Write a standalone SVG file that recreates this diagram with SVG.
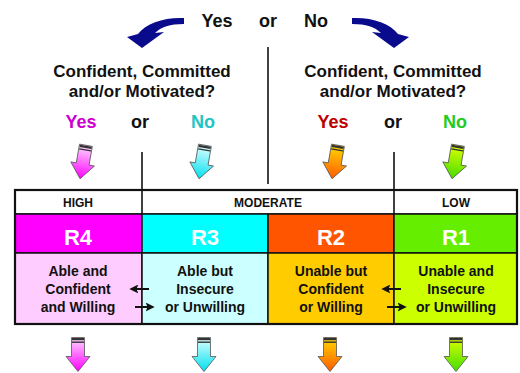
<svg xmlns="http://www.w3.org/2000/svg" width="520" height="373" viewBox="0 0 520 373">
<style>
text{font-family:"Liberation Sans",Arial,sans-serif;font-weight:bold;text-anchor:middle}
.q{font-size:17px;fill:#111}
.yn{font-size:18px}
.hd{font-size:12px;fill:#111}
.rl{font-size:22px;fill:#fff}
.ds{font-size:14px;fill:#111}
.cell{stroke:#111;stroke-width:1.5}
.ln{stroke:#111;stroke-width:1.6;fill:none}
.ga{stroke:#555;stroke-width:0.8}
.band{fill:#333}
.swoosh{fill:#0a0a8c}
.sa{stroke:#111;stroke-width:2;marker-end:url(#ah)}
</style>
<defs>
<linearGradient id="gM" x1="0" y1="0" x2="0" y2="1"><stop offset="0" stop-color="#ffd8ff"/><stop offset="1" stop-color="#ff00ff"/></linearGradient>
<linearGradient id="gC" x1="0" y1="0" x2="0" y2="1"><stop offset="0" stop-color="#e0ffff"/><stop offset="1" stop-color="#00e0f0"/></linearGradient>
<linearGradient id="gO" x1="0" y1="0" x2="0" y2="1"><stop offset="0" stop-color="#ffd800"/><stop offset="1" stop-color="#ff5a00"/></linearGradient>
<linearGradient id="gG" x1="0" y1="0" x2="0" y2="1"><stop offset="0" stop-color="#ddff00"/><stop offset="1" stop-color="#44dd00"/></linearGradient>
<g id="arr">
<path d="M-6.5,-17H6.5V2H12L0,17L-12,2H-6.5Z"/>
</g>
<g id="bands">
<rect class="band" x="-6" y="-16.5" width="12" height="2.2"/>
<rect class="band" x="-6" y="-13" width="12" height="1.4"/>
</g>
<marker id="ah" viewBox="0 0 10 10" refX="7" refY="5" markerWidth="4.5" markerHeight="4.5" orient="auto"><path d="M0,0L10,5L0,10L2,5Z" fill="#111"/></marker>
</defs>

<g id="question-top">
<text class="yn" x="217" y="27" fill="#111">Yes</text>
<text class="yn" x="268" y="27" fill="#111">or</text>
<text class="yn" x="316" y="27" fill="#111">No</text>
</g>

<g id="question-left">
<text class="q" x="142" y="77">Confident, Committed</text>
<text class="q" x="142" y="97">and/or Motivated?</text>
<text class="yn" x="81" y="128" fill="#cc00cc">Yes</text>
<text class="yn" x="140" y="128" fill="#111">or</text>
<text class="yn" x="203" y="128" fill="#22c4c4">No</text>
</g>

<g id="question-right">
<text class="q" x="393" y="77">Confident, Committed</text>
<text class="q" x="393" y="97">and/or Motivated?</text>
<text class="yn" x="333" y="128" fill="#c00000">Yes</text>
<text class="yn" x="393" y="128" fill="#111">or</text>
<text class="yn" x="455" y="128" fill="#22cc22">No</text>
</g>

<g id="header-row">
<rect class="cell" x="15" y="190" width="502" height="24" fill="#fff"/>
<line class="ln" x1="142" y1="190" x2="142" y2="214"/>
<line class="ln" x1="394" y1="190" x2="394" y2="214"/>
<text class="hd" x="78" y="207">HIGH</text>
<text class="hd" x="268" y="207">MODERATE</text>
<text class="hd" x="456" y="207">LOW</text>
</g>

<g id="R4">
<rect class="cell" x="15" y="214" width="127" height="39" fill="#ff00ff"/>
<rect class="cell" x="15" y="253" width="127" height="71" fill="#ffccff"/>
<text class="rl" x="78" y="245">R4</text>
<text class="ds" x="78" y="276">Able and</text>
<text class="ds" x="78" y="294">Confident</text>
<text class="ds" x="78" y="312">and Willing</text>
</g>
<g id="R3">
<rect class="cell" x="142" y="214" width="126" height="39" fill="#00ffff"/>
<rect class="cell" x="142" y="253" width="126" height="71" fill="#ccffff"/>
<text class="rl" x="205" y="245">R3</text>
<text class="ds" x="205" y="276">Able but</text>
<text class="ds" x="205" y="294">Insecure</text>
<text class="ds" x="205" y="312">or Unwilling</text>
</g>
<g id="R2">
<rect class="cell" x="268" y="214" width="126" height="39" fill="#ff5500"/>
<rect class="cell" x="268" y="253" width="126" height="71" fill="#ffcc00"/>
<text class="rl" x="331" y="245">R2</text>
<text class="ds" x="331" y="276">Unable but</text>
<text class="ds" x="331" y="294">Confident</text>
<text class="ds" x="331" y="312">or Willing</text>
</g>
<g id="R1">
<rect class="cell" x="394" y="214" width="123" height="39" fill="#66ee00"/>
<rect class="cell" x="394" y="253" width="123" height="71" fill="#ccff00"/>
<text class="rl" x="456" y="245">R1</text>
<text class="ds" x="456" y="276">Unable and</text>
<text class="ds" x="456" y="294">Insecure</text>
<text class="ds" x="456" y="312">or Unwilling</text>
</g>
<rect x="15" y="190" width="502" height="134" fill="none" stroke="#111" stroke-width="2.2"/>

<g id="connectors">
<path class="swoosh" d="M184,18C165,17 146,23 138,34L127,37L142,48L164,32L155,33C161,27 170,24 184,24Z"/>
<path class="swoosh" transform="translate(536,0) scale(-1,1)" d="M184,18C165,17 146,23 138,34L127,37L142,48L164,32L155,33C161,27 170,24 184,24Z"/>
<line class="ln" x1="268" y1="47" x2="268" y2="184"/>
<line class="ln" x1="142" y1="152" x2="142" y2="190"/>
<line class="ln" x1="394" y1="152" x2="394" y2="190"/>
<line class="sa" x1="149" y1="289" x2="132" y2="289"/>
<line class="sa" x1="135" y1="307" x2="152" y2="307"/>
<line class="sa" x1="401" y1="289" x2="384" y2="289"/>
<line class="sa" x1="387" y1="307" x2="404" y2="307"/>
<g transform="translate(83,162) rotate(10)"><use href="#arr" class="ga" fill="url(#gM)"/><use href="#bands"/></g>
<g transform="translate(202,162) rotate(10)"><use href="#arr" class="ga" fill="url(#gC)"/><use href="#bands"/></g>
<g transform="translate(335,162) rotate(10)"><use href="#arr" class="ga" fill="url(#gO)"/><use href="#bands"/></g>
<g transform="translate(455,162) rotate(10)"><use href="#arr" class="ga" fill="url(#gG)"/><use href="#bands"/></g>
<g transform="translate(78,354.5)"><use href="#arr" class="ga" fill="url(#gM)"/><use href="#bands"/></g>
<g transform="translate(204,354.5)"><use href="#arr" class="ga" fill="url(#gC)"/><use href="#bands"/></g>
<g transform="translate(330,354.5)"><use href="#arr" class="ga" fill="url(#gO)"/><use href="#bands"/></g>
<g transform="translate(456,354.5)"><use href="#arr" class="ga" fill="url(#gG)"/><use href="#bands"/></g>
</g>
</svg>
